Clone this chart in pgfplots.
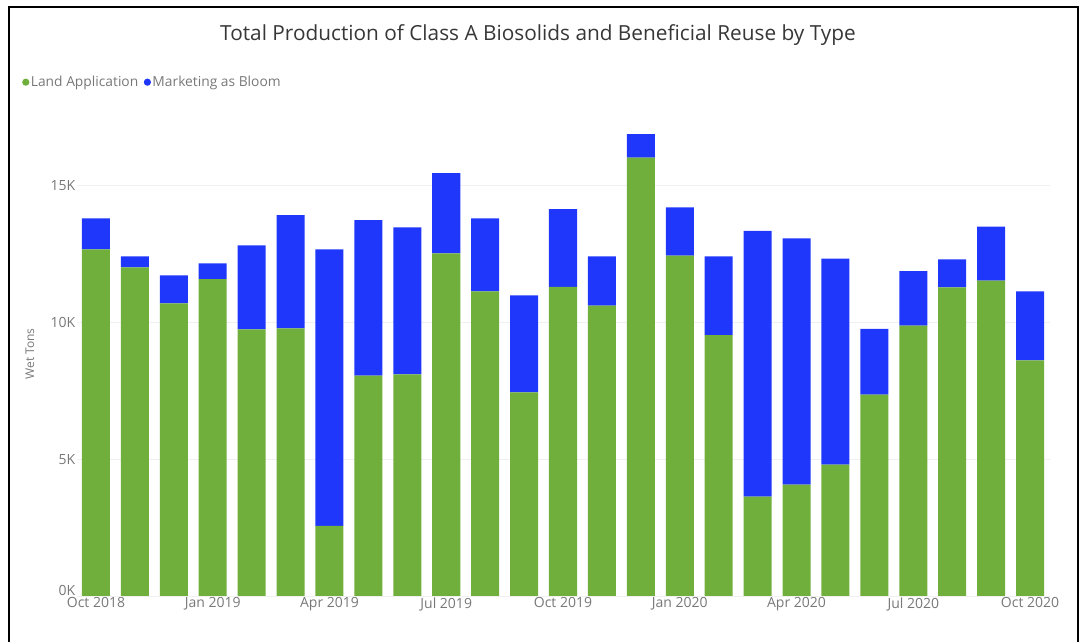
\documentclass[border=0pt]{standalone}
\usepackage{fontspec}
\setmainfont{Open Sans}
\usepackage{pgfplots}
\usepackage{pgfplotstable}
\pgfplotsset{compat=1.18}
\definecolor{landgreen}{RGB}{112,175,60}
\definecolor{bloomblue}{RGB}{30,55,250}
\definecolor{tickgray}{RGB}{120,120,120}
\definecolor{titlegray}{RGB}{55,55,55}

\pgfplotstableread{
idx land bloom
0  12670 1140
1  12015 400
2  10700 1020
3  11580 580
4  9750  3070
5  9780  4140
6  2560  10110
7  8060  5680
8  8100  5380
9  12530 2930
10 11140 2670
11 7440  3550
12 11300 2840
13 10620 1800
14 16030 860
15 12440 1770
16 9540  2880
17 3630  9720
18 4070  9000
19 4800  7530
20 7360  2410
21 9880  2000
22 11280 1030
23 11530 1970
24 8610  2530
}\datatable

\begin{document}
\begin{tikzpicture}
\useasboundingbox (0,0) rectangle (1083bp,642bp);
\begin{axis}[
  at={(76.5bp,46bp)}, anchor=south west,
  scale only axis, width=973bp, height=465bp,
  xmin=-0.5, xmax=24.5, ymin=0, ymax=17000,
  ybar stacked, bar width=0.72,
  axis line style={draw=none},
  major tick length=0pt,
  scaled y ticks=false,
  xtick={0,3,...,24},
  xticklabels={Oct 2018,Jan 2019,Apr 2019,Jul 2019,Oct 2019,Jan 2020,Apr 2020,Jul 2020,Oct 2020},
  ytick={5000,10000,15000},
  yticklabels={5K,10K,15K},
  extra y ticks={0},
  extra y tick labels={0K},
  extra y tick style={yticklabel style={yshift=6bp}},
  tick label style={font=\fontsize{14bp}{15bp}\selectfont, text=tickgray},
  yticklabel style={anchor=east, inner sep=0pt, xshift=-1bp},
  xticklabel style={anchor=north, inner sep=0pt, yshift=-1.5bp},
  ymajorgrids, grid style={draw=gray!12, line width=0.8bp},
  legend columns=-1,
  legend image code/.code={\fill[#1] (0bp,0bp) circle (3.6bp);},
  legend style={at={(-0.056,1.105)}, anchor=west, draw=none, fill=none,
    inner sep=0pt, font=\fontsize{13.8bp}{14bp}\selectfont, text=tickgray,
    nodes={inner sep=1.5bp},
    /tikz/every even column/.append style={column sep=4bp}},
]
\addplot[fill=landgreen, draw=none] table[x=idx,y=land]{\datatable};
\addplot[fill=bloomblue, draw=none] table[x=idx,y=bloom]{\datatable};
\legend{Land Application, Marketing as Bloom}
\end{axis}
\node[anchor=base, font=\fontsize{20.8bp}{22bp}\selectfont, text=titlegray] at (538bp,601.4bp) {Total Production of Class A Biosolids and Beneficial Reuse by Type};
\node[rotate=90, font=\fontsize{12bp}{13bp}\selectfont, text=tickgray] at (30bp,288bp) {Wet Tons};
\draw[line width=2bp, black] (8.5bp,-5bp) -- (8.5bp,634.5bp) -- (1077.5bp,634.5bp) -- (1077.5bp,-5bp);
\end{tikzpicture}
\end{document}
